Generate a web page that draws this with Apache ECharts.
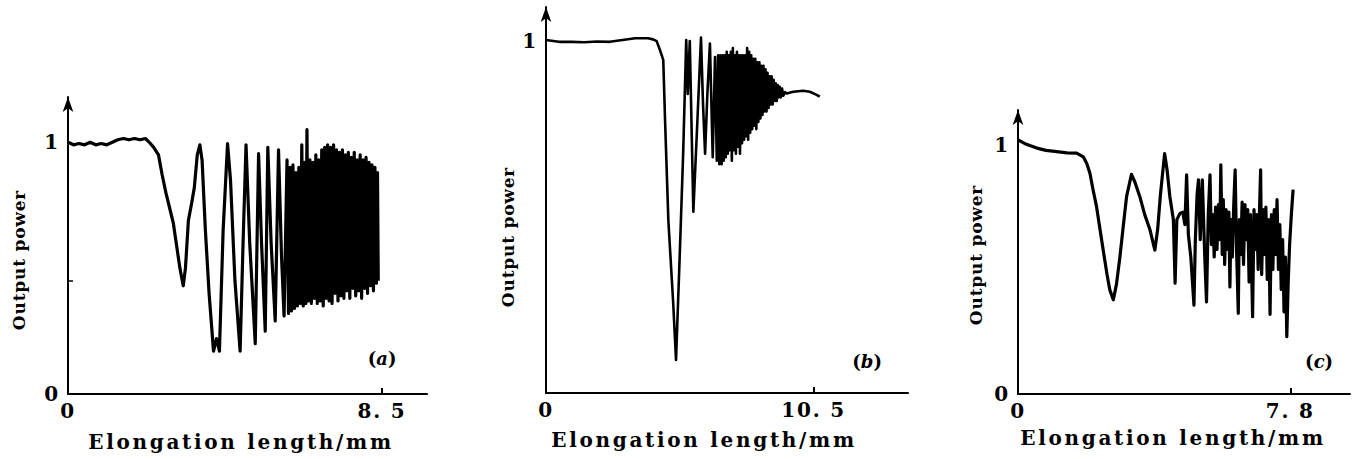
<!DOCTYPE html>
<html>
<head>
<meta charset="utf-8">
<script src="https://cdn.jsdelivr.net/npm/echarts@6.0.0/dist/echarts.min.js"></script>
<style>
  html, body { margin: 0; padding: 0; background: #fff; }
  #chart { width: 1361px; height: 459px; }
</style>
</head>
<body>
<div id="chart"></div>
<script>
// curves: [elongation length (mm), relative output power]
const curveA = [
  [0, 1.0], [0.15, 0.99], [0.3, 0.995], [0.45, 0.99], [0.6, 1.0], [0.75, 0.99], [0.9, 0.995], [1.05, 0.99],
  [1.2, 1.0], [1.35, 1.01], [1.5, 1.015], [1.65, 1.01], [1.8, 1.015], [1.95, 1.01], [2.1, 1.015], [2.2, 1.0],
  [2.32, 0.98], [2.45, 0.95], [2.55, 0.87], [2.65, 0.8], [2.75, 0.74], [2.85, 0.68], [2.95, 0.58], [3.03, 0.5],
  [3.12, 0.43], [3.18, 0.5], [3.26, 0.69], [3.35, 0.76], [3.42, 0.82], [3.5, 0.95], [3.57, 0.99], [3.63, 0.93],
  [3.72, 0.65], [3.82, 0.4], [3.94, 0.17], [4.02, 0.22], [4.1, 0.17], [4.2, 0.65], [4.32, 0.995], [4.4, 0.85],
  [4.52, 0.45], [4.66, 0.17], [4.74, 0.6], [4.82, 0.99], [4.92, 0.6], [5.07, 0.2], [5.16, 0.955], [5.24, 0.6],
  [5.34, 0.25], [5.41, 0.98], [5.5, 0.6], [5.61, 0.29], [5.7, 0.97], [5.78, 0.55], [5.85, 0.31], [5.93, 0.93],
  [5.97, 0.32], [6.01, 0.9], [6.05, 0.33], [6.09, 0.91], [6.13, 0.34], [6.17, 0.88], [6.21, 0.35], [6.25, 0.9],
  [6.29, 0.36], [6.33, 0.99],
  [6.37, 0.35], [6.41, 0.92], [6.44, 0.36], [6.47, 1.05], [6.51, 0.37], [6.55, 0.93], [6.59, 0.36], [6.63, 0.92],
  [6.67, 0.38], [6.71, 0.95], [6.75, 0.36], [6.79, 0.93], [6.83, 0.37], [6.87, 0.97], [6.91, 0.35], [6.95, 0.98],
  [6.99, 0.38], [7.03, 0.99], [7.07, 0.37], [7.11, 0.98], [7.15, 0.36], [7.19, 0.99], [7.23, 0.4], [7.27, 0.97],
  [7.31, 0.37], [7.35, 0.96], [7.39, 0.39], [7.43, 0.97], [7.47, 0.38], [7.51, 0.95], [7.55, 0.41], [7.59, 0.96],
  [7.63, 0.38], [7.67, 0.94], [7.71, 0.42], [7.75, 0.96], [7.79, 0.39], [7.83, 0.93], [7.87, 0.41], [7.91, 0.95],
  [7.95, 0.38], [7.99, 0.93], [8.03, 0.42], [8.07, 0.94], [8.11, 0.4], [8.15, 0.92], [8.19, 0.43], [8.23, 0.91],
  [8.27, 0.41], [8.31, 0.9], [8.35, 0.44], [8.38, 0.88], [8.4, 0.45]
];

const curveB = [
  [0, 1.003], [0.5, 0.998], [1, 0.998], [1.5, 0.997], [2, 0.999], [2.5, 0.998], [3, 1.003], [3.5, 1.008],
  [4.0, 1.008], [4.2, 1.005], [4.34, 1.0], [4.47, 0.975], [4.6, 0.946], [4.67, 0.776], [4.8, 0.49], [4.99, 0.255],
  [5.1, 0.094], [5.25, 0.4], [5.38, 0.68], [5.5, 1.003], [5.56, 0.85], [5.64, 1.0], [5.78, 0.515], [5.94, 0.776],
  [6.08, 1.01], [6.16, 0.82], [6.24, 0.68], [6.33, 0.85], [6.43, 0.993], [6.54, 0.67], [6.63, 0.955], [6.7, 0.66],
  [6.75, 0.96], [6.8, 0.65], [6.84, 0.96], [6.89, 0.65], [6.93, 0.96], [6.97, 0.66], [7.01, 0.96], [7.05, 0.67],
  [7.09, 0.97], [7.13, 0.68], [7.17, 0.96], [7.21, 0.69], [7.25, 0.97], [7.29, 0.66], [7.33, 0.98], [7.37, 0.69],
  [7.41, 0.96], [7.45, 0.68], [7.49, 0.97], [7.53, 0.7], [7.57, 0.96], [7.61, 0.68], [7.65, 0.96], [7.69, 0.71],
  [7.73, 0.96], [7.77, 0.72], [7.81, 0.96], [7.85, 0.73], [7.89, 0.98], [7.93, 0.72], [7.97, 0.97], [8.01, 0.74],
  [8.05, 0.96], [8.09, 0.75], [8.13, 0.95], [8.17, 0.76], [8.21, 0.95], [8.25, 0.75], [8.29, 0.94], [8.33, 0.77],
  [8.37, 0.94], [8.41, 0.78], [8.45, 0.93], [8.49, 0.79], [8.53, 0.93], [8.57, 0.8], [8.61, 0.92], [8.65, 0.8],
  [8.69, 0.91], [8.73, 0.81], [8.77, 0.9], [8.81, 0.82], [8.85, 0.9], [8.89, 0.82], [8.93, 0.89], [8.97, 0.83],
  [9.01, 0.88], [9.05, 0.83], [9.09, 0.875], [9.13, 0.84], [9.17, 0.87], [9.21, 0.84], [9.26, 0.865], [9.31, 0.845],
  [9.38, 0.855], [9.44, 0.851], [9.7, 0.856], [10.09, 0.859], [10.35, 0.856], [10.6, 0.848], [10.74, 0.842]
];

const curveC = [
  [0, 1.02], [0.2, 1.005], [0.54, 0.987], [0.8, 0.978], [1.11, 0.973], [1.4, 0.968], [1.68, 0.967], [1.87, 0.952],
  [1.97, 0.925], [2.06, 0.886], [2.15, 0.82], [2.25, 0.752], [2.35, 0.66], [2.44, 0.578], [2.55, 0.48], [2.63, 0.418],
  [2.73, 0.378], [2.82, 0.44], [2.92, 0.551], [3.02, 0.68], [3.11, 0.792], [3.25, 0.882], [3.35, 0.85], [3.49, 0.792],
  [3.63, 0.72], [3.78, 0.659], [3.92, 0.578], [4.0, 0.66], [4.08, 0.8], [4.2, 0.965], [4.27, 0.9], [4.35, 0.792],
  [4.45, 0.7], [4.5, 0.445], [4.55, 0.7], [4.64, 0.725], [4.72, 0.73], [4.78, 0.68], [4.83, 0.88], [4.88, 0.64],
  [4.95, 0.55], [5.04, 0.357], [5.08, 0.62], [5.13, 0.8], [5.17, 0.86], [5.22, 0.62], [5.28, 0.86], [5.35, 0.55],
  [5.4, 0.37], [5.45, 0.72], [5.5, 0.88], [5.54, 0.6], [5.58, 0.72], [5.62, 0.55], [5.66, 0.75], [5.7, 0.58],
  [5.74, 0.76], [5.78, 0.62], [5.81, 0.92], [5.85, 0.56], [5.88, 0.78], [5.92, 0.52], [5.96, 0.74], [6.0, 0.58],
  [6.04, 0.73], [6.07, 0.43], [6.1, 0.7], [6.14, 0.55], [6.18, 0.76], [6.22, 0.9], [6.26, 0.58], [6.31, 0.324],
  [6.34, 0.7], [6.38, 0.56], [6.42, 0.77], [6.46, 0.52], [6.5, 0.76], [6.54, 0.62], [6.58, 0.74], [6.62, 0.45],
  [6.66, 0.72], [6.72, 0.31], [6.76, 0.74], [6.8, 0.58], [6.84, 0.72], [6.88, 0.5], [6.92, 0.75], [6.95, 0.9],
  [6.98, 0.48], [7.02, 0.74], [7.06, 0.56], [7.1, 0.75], [7.14, 0.46], [7.18, 0.7], [7.22, 0.32], [7.26, 0.72],
  [7.3, 0.5], [7.34, 0.74], [7.38, 0.56], [7.42, 0.78], [7.46, 0.5], [7.5, 0.68], [7.54, 0.42], [7.58, 0.62],
  [7.62, 0.33], [7.66, 0.55], [7.7, 0.23], [7.74, 0.45], [7.78, 0.6], [7.83, 0.72], [7.88, 0.82]
];

// axis ends (the last labelled tick) and their printed labels
const xEnds = [8.5, 10.5, 7.8];
const xEndLabels = ['8. 5', '10. 5', '7. 8'];
const yLabelValues = [[0, 1], [1], [0, 1]];
const yExtraTicks = [[0.45], [], []];
const panelTags = ['a', 'b', 'c'];

const serif = '"DejaVu Serif", "Liberation Serif", serif';
const ink = '#000';

// pixel boxes for the three plots (scan layout)
const boxes = [
  { left: 68, top: 97, width: 359, height: 297, xMax: 9.72, yMax: 1.18 },
  { left: 546, top: 7, width: 362, height: 386, xMax: 14.2, yMax: 1.097 },
  { left: 1018, top: 110, width: 332, height: 284, xMax: 9.51, yMax: 1.14 }
];

const chart = echarts.init(document.getElementById('chart'), null, { renderer: 'svg' });

const grids = boxes.map(b => ({ left: b.left, top: b.top, width: b.width, height: b.height }));

const xAxes = boxes.map((b, i) => ({
  type: 'value',
  gridIndex: i,
  min: 0,
  max: b.xMax,
  axisLine: { show: true, onZero: false, lineStyle: { color: ink, width: 2 } },
  axisTick: {
    show: true, inside: true, length: 6,
    lineStyle: { color: ink, width: 2 },
    customValues: [xEnds[i]]
  },
  axisLabel: {
    customValues: [0, xEnds[i]],
    formatter: v => (v === 0 ? '0' : xEndLabels[i]),
    color: ink, fontFamily: serif, fontWeight: 'bold', fontSize: 20, margin: 7
  },
  splitLine: { show: false }
}));

const yAxes = boxes.map((b, i) => ({
  type: 'value',
  gridIndex: i,
  min: 0,
  max: b.yMax,
  axisLine: {
    show: true, onZero: false,
    symbol: ['none', 'arrow'], symbolSize: [8, 15],
    lineStyle: { color: ink, width: 2 }
  },
  axisTick: {
    show: yExtraTicks[i].length > 0, inside: true, length: 5,
    lineStyle: { color: ink, width: 1.5 },
    customValues: yExtraTicks[i]
  },
  axisLabel: {
    customValues: yLabelValues[i],
    formatter: v => String(v),
    color: ink, fontFamily: serif, fontWeight: 'bold', fontSize: 20, margin: 8
  },
  splitLine: { show: false }
}));

const curves = [curveA, curveB, curveC];
const widths = [3.2, 2.6, 3.2];
const series = curves.map((c, i) => ({
  type: 'line',
  xAxisIndex: i,
  yAxisIndex: i,
  data: c,
  showSymbol: false,
  smooth: false,
  lineStyle: { color: ink, width: widths[i], join: 'round' },
  silent: true
}));

// titles and panel tags
const xTitlePos = [[241, 442], [704, 440], [1173, 438]];
const yTitlePos = [[19, 260], [508, 237], [976, 255]];
const tagPos = [[383, 358], [868, 361], [1320, 361]];

const graphics = [];
for (let i = 0; i < 3; i++) {
  graphics.push({
    type: 'text', x: xTitlePos[i][0], y: xTitlePos[i][1], silent: true,
    style: {
      text: 'Elongation length/mm', fill: ink,
      font: 'bold 20px ' + serif, textAlign: 'center', textVerticalAlign: 'middle'
    }
  });
  graphics.push({
    type: 'text', x: yTitlePos[i][0], y: yTitlePos[i][1], rotation: Math.PI / 2, silent: true,
    style: {
      text: 'Output power', fill: ink,
      font: 'bold 17px ' + serif, textAlign: 'center', textVerticalAlign: 'middle'
    }
  });
  graphics.push({
    type: 'text', x: tagPos[i][0], y: tagPos[i][1], silent: true,
    style: {
      text: '{n|(}{i|' + panelTags[i] + '}{n|)}',
      textAlign: 'center', textVerticalAlign: 'middle',
      rich: {
        n: { font: 'bold 18px ' + serif, fill: ink },
        i: { font: 'italic bold 18px ' + serif, fill: ink }
      }
    }
  });
}

chart.setOption({
  animation: false,
  backgroundColor: '#fff',
  grid: grids,
  xAxis: xAxes,
  yAxis: yAxes,
  series: series,
  graphic: graphics
});

// the scan is typeset with wide tracking
const tracking = { 'Elongation length/mm': 2.7, 'Output power': 0.8 };
function applyTracking() {
  document.querySelectorAll('#chart text').forEach(t => {
    const s = tracking[t.textContent];
    t.style.letterSpacing = (s !== undefined ? s : 1.8) + 'px';
  });
}
chart.on('finished', applyTracking);
applyTracking();
</script>
</body>
</html>
